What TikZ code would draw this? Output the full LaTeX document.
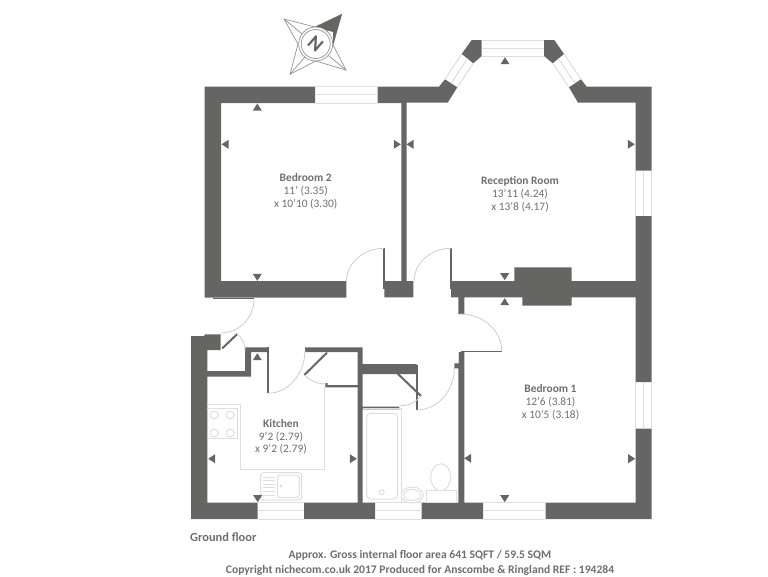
\documentclass[tikz,border=0pt]{standalone}
\usepackage{fontspec}
\setmainfont{Carlito}
\usepackage{tikz}
\usetikzlibrary{arrows,positioning,calc}
\definecolor{wallgrey}{HTML}{656563}
\definecolor{fixline}{HTML}{DEDEDE}
\definecolor{swingline}{HTML}{CDCDCD}
\definecolor{textgrey}{HTML}{6E6E6E}
\tikzset{
    %Define style for walls
    wall/.style={
           fill=wallgrey},
    %Define style for door leaves
    leaf/.style={
           draw=wallgrey,
           line width=1.6pt},
    %Define style for door swings
    swing/.style={
           draw=swingline,
           line width=0.8pt},
    %Define style for windows and fittings
    fitting/.style={
           draw=fixline,
           line width=1pt,
           fill=white},
    % Define text styles
    roomname/.style={
           font=\fontsize{11.4}{12.4}\selectfont\bfseries,
           text=textgrey,
           text height=8pt,
           text depth=2.4pt,
           inner sep=0pt},
    roomsize/.style={
           font=\fontsize{11.4}{12.4}\selectfont,
           text=textgrey,
           text height=8pt,
           text depth=2.4pt,
           inner sep=0pt},
    note/.style={
           font=\fontsize{11.6}{12.6}\selectfont\bfseries,
           text=textgrey,
           inner sep=0pt}
}

\begin{document}
\begin{tikzpicture}[x=1pt,y=-1pt,node distance=2pt]
\useasboundingbox (0,0) rectangle (768,576);
% outer walls
\fill[wall] (204.5,86.7) -- (315,86.7) -- (315,103) -- (221,103) -- (221,281) -- (346.3,281) -- (346.3,297.7) -- (204.5,297.7) -- cycle;
\fill[wall] (377.7,86.7) -- (439,86.7) -- (445,79.3) -- (457.3,87.3) -- (447.7,102.7) -- (406.7,102.7) -- (406.7,281) -- (413.3,281) -- (413.3,297.3) -- (384.3,297.3) -- (384.3,281) -- (401.3,281) -- (401.3,103) -- (377.7,103) -- cycle;
\fill[wall] (471.7,40) -- (481.7,40) -- (481.7,56) -- (473.3,63.3) -- (461.7,54) -- cycle;
\fill[wall] (544,40) -- (554.3,40) -- (564,54) -- (552.7,63.3) -- (544,56) -- cycle;
\fill[wall] (569,87.3) -- (581,79.3) -- (586.7,86.7) -- (651.7,86.7) -- (651.7,170.7) -- (635.7,170.7) -- (635.7,102.7) -- (578,102.7) -- cycle;
\fill[wall] (635.7,216) -- (651.7,216) -- (651.7,382) -- (635.7,382) -- (635.7,297.3) -- (571.7,297.3) -- (571.7,305.7) -- (522.3,305.7) -- (522.3,297.3) -- (464.3,297.3) -- (464.3,314) -- (458.3,314) -- (458.3,297.3) -- (451,297.3) -- (451,281) -- (514.3,281) -- (514.3,267.3) -- (571.7,267.3) -- (571.7,281) -- (635.7,281) -- cycle;
\fill[wall] (635.7,428.7) -- (651.7,428.7) -- (651.7,519) -- (545.7,519) -- (545.7,502.7) -- (635.7,502.7) -- cycle;
\fill[wall] (421.7,519) -- (421.7,502.7) -- (458.3,502.7) -- (458.3,368.3) -- (454.3,368.3) -- (454.3,363.3) -- (458.3,363.3) -- (458.3,352) -- (464.3,352) -- (464.3,502.7) -- (483,502.7) -- (483,519) -- cycle;
\fill[wall] (304,502.7) -- (357.5,502.7) -- (357.5,387.3) -- (325.3,387.3) -- (325.3,383) -- (327.5,383) -- (327.5,385) -- (357.5,385) -- (357.5,352) -- (305,352) -- (305,347.3) -- (362.7,347.3) -- (362.7,364) -- (416.7,364) -- (416.7,374) -- (362.7,374) -- (362.7,406.7) -- (399.3,406.7) -- (399.3,409.3) -- (362.7,409.3) -- (362.7,502.7) -- (375,502.7) -- (375,519) -- (304,519) -- cycle;
\fill[wall] (191,336) -- (204.3,336) -- (204.3,334.3) -- (220.7,334.3) -- (220.7,350) -- (207.3,350) -- (207.3,371) -- (245,371) -- (245,347.3) -- (267.3,347.3) -- (267.3,352) -- (251,352) -- (251,376.7) -- (207.3,376.7) -- (207.3,502.7) -- (257.7,502.7) -- (257.7,519) -- (191,519) -- cycle;
% windows
\foreach \xa/\ya/\xb/\yb/\xc/\yc/\xd/\yd in {315/86.7/377.7/86.7/377.7/103/315/103,
                                            481.7/40/544/40/544/56/481.7/56,
                                            635.7/170.7/635.7/216/651.7/216/651.7/170.7,
                                            635.7/382/635.7/428.7/651.7/428.7/651.7/382,
                                            473.3/63.3/457.3/87.3/445/79.3/461.7/54,
                                            552.7/63.3/569/87.3/581/79.3/564/54,
                                            257.7/502.7/304/502.7/304/519/257.7/519,
                                            375/502.7/421.7/502.7/421.7/519/375/519,
                                            483/502.7/545.7/502.7/545.7/519/483/519}{
    \draw[fitting] (\xa,\ya) -- (\xb,\yb) (\xc,\yc) -- (\xd,\yd);
    \draw[fitting] ($(\xa,\ya)!0.5!(\xd,\yd)$) -- ($(\xb,\yb)!0.5!(\xc,\yc)$);
}
% door leaves
\draw[leaf] (213,298.5) -- (254,298.5);
\draw[leaf] (384,248.3) -- (384,289);
\draw[leaf] (451,248.3) -- (451,289);
\draw[leaf] (461,351.5) -- (501.7,351.5);
\draw[leaf] (416.7,365) -- (416.7,410);
\draw[leaf] (268,347) -- (268,393.3);
\draw[leaf,line width=2pt] (222.3,348.3) -- (237.3,334);
\draw[leaf,line width=2pt] (327,352.7) -- (304.3,375);
\draw[leaf,line width=2pt] (397.3,373.3) -- (421,396);
% door swings
\draw[swing] (254,299) arc[start angle=0,end angle=90,x radius=33,y radius=34];
\draw[swing] (384,248.3) arc[start angle=270,end angle=180,x radius=37.7,y radius=33.4];
\draw[swing] (451,248.3) arc[start angle=270,end angle=180,x radius=37,y radius=33.4];
\draw[swing] (460,314) arc[start angle=270,end angle=360,x radius=41.7,y radius=37];
\draw[swing] (454.3,368) arc[start angle=0,end angle=90,x radius=37.6,y radius=42];
\draw[swing] (305,350) arc[start angle=0,end angle=90,x radius=37,y radius=43.3];
\draw[swing] (237.3,334) to[bend left=25] (245,351.7);
\draw[swing] (304.3,375) to[bend right=20] (325.3,384);
\draw[swing] (421,396) to[bend left=25] (399.3,405.7);
% kitchen fittings
\draw[fitting,fill=none] (207.3,404) -- (240.3,404) -- (240.3,469.3) -- (324.3,469.3) -- (324.3,387);
\draw[fitting,fill=none] (207.3,408.3) -- (237.3,408.3) -- (237.3,438.3) -- (207.3,438.3);
\foreach \x in {214.3,230.3}
    \foreach \y in {415,433}
        \draw[fitting,fill=none] (\x,\y) circle[radius=4pt];
\draw[fitting,rounded corners=3pt,fill=none] (260.7,472.7) rectangle (301.7,500);
\draw[fitting,rounded corners=3pt,fill=none] (277.3,475) rectangle (299.3,497.7);
\foreach \y in {477,480.6,...,495.5}
    \draw[fitting,fill=none] (263.3,\y) -- (275,\y);
\draw[fitting,fill=none] (281,486) circle[radius=1pt];
% bathroom fittings
\draw[fitting,fill=none] (362.7,408.3) -- (401,408.3) -- (401,502.7);
\draw[fitting,rounded corners=4pt,fill=none] (366.7,413.3) rectangle (397.7,499);
\draw[fitting,fill=none] (381.7,492.3) circle[radius=2.5pt];
\draw[fitting,fill=none] (412.3,495) ellipse[x radius=11pt,y radius=8pt];
\draw[fitting,fill=none] (412.3,495) ellipse[x radius=8.5pt,y radius=5.5pt];
\draw[fitting,fill=none] (440.7,477.3) ellipse[x radius=10pt,y radius=13.5pt];
\draw[fitting] (426,490.7) rectangle (456,502.7);
\draw[fitting,fill=none] (458,352) -- (458,363);
% markers
\foreach \x/\y/\a in {257.3/107/0, 257.3/356.7/0, 505/60.7/0, 504.7/301.7/0,
                      257.3/277.3/180, 504.7/276.7/180, 504.7/498.7/180, 257.7/498.7/180,
                      225/144.3/90, 410/144.3/90, 467.7/458.3/90, 211.7/458.7/90,
                      397.3/144.3/270, 631.3/144.3/270, 631.7/458.7/270, 353.3/458.7/270}
    \fill[wallgrey,shift={(\x,\y)},rotate=\a] (-4.5,3.5) -- (4.5,3.5) -- (0,-3.5) -- cycle;
% compass
\draw[wallgrey!70,line width=0.7pt] (341.7,14.3) -- (333,45) -- (346,70) -- (315.7,61) -- (290,74.3) -- (298,44) -- (284,19) -- (315,27) -- cycle;
\draw[wallgrey!70,line width=0.7pt] (284,19) -- (346,70) (290,74.3) -- (341.7,14.3);
\fill[wallgrey] (341.7,14.3) -- (315,27) -- (333,32) -- (333,45) -- cycle;
\fill[white] (315.7,44) circle[radius=17pt];
\draw[wallgrey!70,line width=0.7pt] (315.7,44) circle[radius=17pt];
\draw[wallgrey!70,line width=0.7pt] (315.7,44) circle[radius=14.5pt];
\node[font=\fontsize{20}{20}\selectfont\bfseries,text=wallgrey,rotate=-41,inner sep=0pt](north) at (315.7,44){N};
% room labels
\node[roomname](bed2) at (305.7,179){Bedroom 2};
\node[roomsize,below=of bed2](bed2a){11' (3.35)};
\node[roomsize,below=of bed2a](bed2b){x 10'10 (3.30)};
\node[roomname](recep) at (520,182){Reception Room};
\node[roomsize,below=of recep](recepa){13'11 (4.24)};
\node[roomsize,below=of recepa](recepb){x 13'8 (4.17)};
\node[roomname](bed1) at (550.5,390){Bedroom 1};
\node[roomsize,below=of bed1](bed1a){12'6 (3.81)};
\node[roomsize,below=of bed1a](bed1b){x 10'5 (3.18)};
\node[roomname](kitchen) at (281,424.5){Kitchen};
\node[roomsize,below=of kitchen](kitchena){9'2 (2.79)};
\node[roomsize,below=of kitchena](kitchenb){x 9'2 (2.79)};
% footer
\node[note,anchor=west,font=\fontsize{12.4}{13.4}\selectfont\bfseries](floor) at (190,537){Ground floor};
\node[note](area) at (420,555){Approx. Gross internal floor area 641 SQFT / 59.5 SQM};
\node[note](credit) at (420,570){Copyright nichecom.co.uk 2017 Produced for Anscombe \& Ringland REF : 194284};
\end{tikzpicture}
\end{document}
